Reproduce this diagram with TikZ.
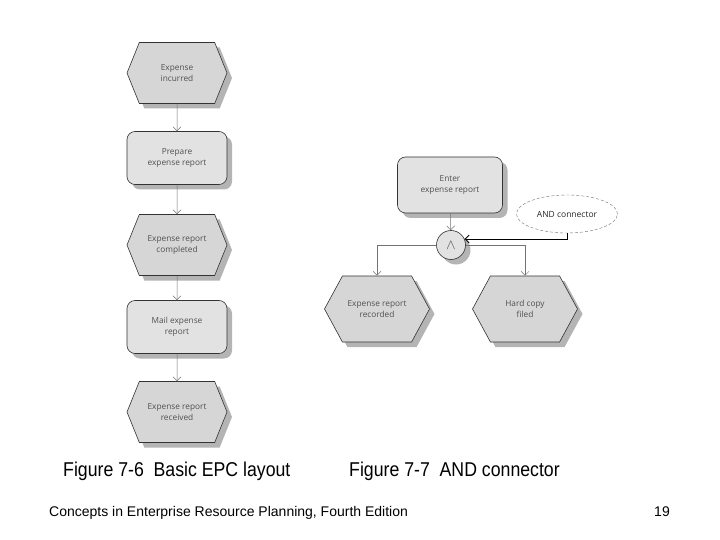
\documentclass[tikz,border=0pt]{standalone}
\usepackage{fontspec}
\setmainfont{Liberation Sans}
\newfontfamily\shapefont{Open Sans}
\usetikzlibrary{shapes.symbols,shapes.geometric,shadows,arrows.meta}
\definecolor{evfill}{HTML}{D6D6D6}
\definecolor{fnfill}{HTML}{E2E2E2}
\definecolor{shcol}{HTML}{B4B4B4}
\definecolor{txt}{HTML}{505050}
\begin{document}
\begin{tikzpicture}[x=1pt,y=-1pt,
  shd/.style={drop shadow={shadow xshift=5pt,shadow yshift=-5pt,fill=shcol,opacity=1}},
  shapetext/.style={align=center,font=\shapefont\fontsize{8.3}{11.5}\selectfont,text=txt},
  event/.style={shape=signal,signal to=east and west,signal pointer angle=136,
    draw=black!80,line width=0.6pt,fill=evfill,shd,minimum width=100pt,
    minimum height=61pt,inner sep=0pt,shapetext},
  bigevent/.style={event,minimum width=105pt,minimum height=66pt,signal pointer angle=123},
  func/.style={rectangle,rounded corners=8pt,draw=black!80,line width=0.6pt,
    fill=fnfill,shd,minimum width=100pt,minimum height=53pt,inner sep=0pt,shapetext},
  conn/.style={circle,draw=black!80,line width=0.6pt,fill=fnfill,shd,
    minimum size=29pt,inner sep=0pt,text=txt,font=\Large},
  note/.style={ellipse,draw=black!55,line width=0.4pt,dash pattern=on 3pt off 2pt,fill=white,
    minimum width=101pt,minimum height=38pt,inner sep=0pt,
    font=\shapefont\fontsize{8.5}{10}\selectfont,text=black!85},
  flow/.style={draw=black!55,line width=0.5pt,-{Straight Barb[length=4pt,width=8pt]}},
  andline/.style={draw=black,line width=0.9pt,-{Straight Barb[length=4pt,width=8pt]}},
  captiontext/.style={anchor=base west,font=\fontsize{20}{22}\selectfont,inner sep=0pt}
]
\fill[white] (0,0) rectangle (720,540);
\useasboundingbox (0,0) rectangle (720,540);

% Figure 7-6
\node[event] (e1) at (177,73) {Expense\\incurred};
\node[func] (f1) at (177,158) {Prepare\\expense report};
\node[event] (e2) at (177,245) {Expense report\\completed};
\node[func] (f2) at (177,327) {Mail expense\\report};
\node[event] (e3) at (177,412) {Expense report\\received};

\draw[flow] (e1) -- (f1);
\draw[flow] (f1) -- (e2);
\draw[flow] (e2) -- (f2);
\draw[flow] (f2) -- (e3);

% Figure 7-7
\node[func,minimum width=105pt,minimum height=56pt] (f3) at (450,185) {Enter\\expense report};
\node[conn] (and) at (451,245) {$\wedge$};
\node[note] (ell) at (567,214) {AND connector};
\node[bigevent] (e4) at (377,309) {Expense report\\recorded};
\node[bigevent] (e5) at (525,309) {Hard copy\\filed};

\draw[flow] (f3) -- (and);
\draw[flow] (and.west) -| (e4.north);
\draw[flow] (and.east) -| (e5.north);
\draw[andline] (ell.south) |- (and.24);

% captions
\node[captiontext] (c1) at (63,476) {\scalebox{0.885}[1]{Figure 7-6\ \ Basic EPC layout}};
\node[captiontext] (c2) at (349,476) {\scalebox{0.885}[1]{Figure 7-7\ \ AND connector}};
\node[anchor=base west,font=\fontsize{14}{16}\selectfont,inner sep=0pt] (foot) at (49,516)
  {Concepts in Enterprise Resource Planning, Fourth Edition};
\node[anchor=base east,font=\fontsize{14}{16}\selectfont,inner sep=0pt] (pg) at (670,516) {19};
\end{tikzpicture}
\end{document}
